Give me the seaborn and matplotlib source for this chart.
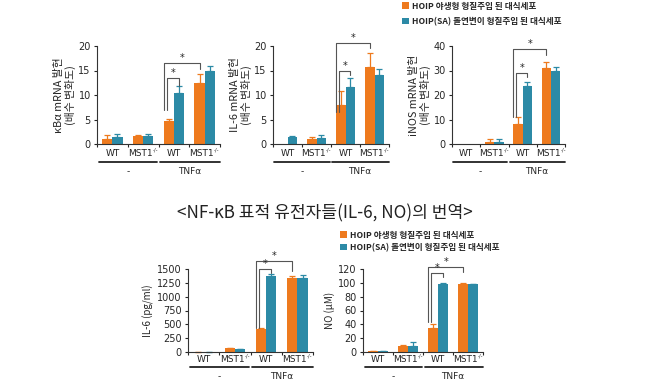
import matplotlib
matplotlib.use("Agg")
import matplotlib.pyplot as plt
import seaborn as sns
import pandas as pd
import numpy as np
from matplotlib.patches import Patch

sns.set_theme(style="ticks")
plt.rcParams['font.family'] = ['Noto Sans CJK KR', 'DejaVu Sans']

ORANGE = "#EE7A1E"
TEAL = "#2C8AA6"

genotypes = ["WT", "MST1", "WT ", "MST1 "]
genotype_sup = ["", "-/-", "", "-/-"]
treat_labels = ["-", "TNFα"]
series_names = ["HOIP 야생형 형질주입 된 대식세포", "HOIP(SA) 돌연변이 형질주입 된 대식세포"]

# kBa mRNA
kba_wt = [1.0, 1.6, 4.7, 12.5]
kba_wt_err = [0.8, 0.2, 0.4, 1.8]
kba_sa = [1.5, 1.7, 10.5, 15.0]
kba_sa_err = [0.6, 0.3, 1.4, 1.0]
# IL-6 mRNA
il6m_wt = [0.0, 1.0, 7.9, 15.8]
il6m_wt_err = [0.0, 0.4, 3.0, 2.8]
il6m_sa = [1.5, 1.3, 11.7, 14.0]
il6m_sa_err = [0.2, 0.5, 1.7, 1.3]
# iNOS mRNA
inos_wt = [0.0, 0.7, 8.0, 31.0]
inos_wt_err = [0.0, 1.5, 3.0, 2.5]
inos_sa = [0.0, 1.0, 23.5, 30.0]
inos_sa_err = [0.0, 1.2, 1.8, 1.5]
# IL-6 protein
il6p_wt = [5, 65, 420, 1345]
il6p_wt_err = [2, 10, 20, 30]
il6p_sa = [5, 55, 1370, 1340]
il6p_sa_err = [2, 8, 40, 45]
# NO
no_wt = [1.5, 8.5, 35, 98.5]
no_wt_err = [0.5, 1.0, 6.0, 0.6]
no_sa = [1.0, 9.0, 98.0, 98.0]
no_sa_err = [0.3, 6.0, 2.0, 0.6]

W, H = 658, 391
fig = plt.figure(figsize=(W / 100, H / 100), dpi=100)


def axes_px(x0, x1, ytop, ybot):
    return fig.add_axes([x0 / W, 1 - ybot / H, (x1 - x0) / W, (ybot - ytop) / H])


def panel(ax, wt, wt_err, sa, sa_err, ymax, yticks, ylabel, brackets, line_off, lab_off,
          tick_off, ylab_size):
    df = pd.DataFrame({
        "geno": genotypes * 2,
        "val": wt + sa,
        "series": [series_names[0]] * 4 + [series_names[1]] * 4,
    })
    sns.barplot(data=df, x="geno", y="val", hue="series", order=genotypes,
                hue_order=series_names, palette=[ORANGE, TEAL], width=0.66,
                errorbar=None, legend=False, ax=ax, saturation=1, linewidth=0)
    for cont, errs, col in zip(ax.containers, [wt_err, sa_err], [ORANGE, TEAL]):
        xs = [p.get_x() + p.get_width() / 2 for p in cont.patches]
        hs = [p.get_height() for p in cont.patches]
        for x, h, e in zip(xs, hs, errs):
            if h > 0 and e > 0:
                ax.errorbar(x, h, yerr=[[0], [e]], color=col, capsize=2.2,
                            elinewidth=0.9, capthick=0.9, clip_on=False)
    ax.set_xlim(-0.5, 3.5)
    ax.set_ylim(0, ymax)
    ax.set_yticks(yticks)
    ax.set_xlabel("")
    ax.set_ylabel(ylabel, fontsize=ylab_size, labelpad=2, linespacing=1.0)
    ax.set_xticks(range(4))
    ax.set_xticklabels([])
    ax.tick_params(axis='x', length=0)
    ax.set_xticks([-0.5, 0.5, 1.5, 2.5, 3.5], minor=True)
    ax.tick_params(axis='x', which='minor', length=2.5, width=0.8, direction='out')
    ax.tick_params(axis='y', labelsize=7, length=2.5, width=0.8, pad=2)
    for lab in ax.get_yticklabels():
        lab.set_family('DejaVu Sans')
    sns.despine(ax=ax)
    for s in ["left", "bottom"]:
        ax.spines[s].set_linewidth(0.8)
        ax.spines[s].set_color("#333333")
    ax.set_facecolor("none")
    tr = ax.get_xaxis_transform()
    bbox_h = ax.get_position().height * H
    # tick labels with small superscript
    for i, (g, sup) in enumerate(zip(genotypes, genotype_sup)):
        dx = -0.09 if sup else 0.0
        t = ax.text(i + dx, -tick_off / bbox_h, g.strip(), transform=tr, ha="center",
                    va="center", fontsize=6.5, family='DejaVu Sans', color="#222222")
        if sup:
            ax.annotate(sup, xy=(1.0, 0.95), xycoords=t, ha="left", va="center",
                        fontsize=3.8, family='DejaVu Sans', color="#222222")
    # treatment group lines
    yl = -line_off / bbox_h
    ylab = -lab_off / bbox_h
    ax.plot([-0.45, 1.45], [yl, yl], transform=tr, color="#222222", lw=1.3, clip_on=False)
    ax.plot([1.55, 3.5], [yl, yl], transform=tr, color="#222222", lw=1.3, clip_on=False)
    ax.text(0.5, ylab, treat_labels[0], transform=tr, ha="center", va="top", fontsize=6.5,
            family='DejaVu Sans')
    ax.text(2.5, ylab, treat_labels[1], transform=tr, ha="center", va="top", fontsize=6.5,
            family='DejaVu Sans')
    # significance brackets
    for (x1, x2, ytop, yb1, yb2) in brackets:
        ax.plot([x1, x1, x2, x2], [yb1, ytop, ytop, yb2], color="#555555", lw=0.8,
                clip_on=False)
        ax.text((x1 + x2) / 2, ytop, "*", ha="center", va="bottom", fontsize=7,
                family='DejaVu Sans')


def xpos(i, hue):
    return i + (-0.165 if hue == 0 else 0.165)


# top row
ax1 = axes_px(97, 220, 46, 144)
panel(ax1, kba_wt, kba_wt_err, kba_sa, kba_sa_err, 20, [0, 5, 10, 15, 20],
      "κBα mRNA 발현\n(배수 변화도)",
      [(xpos(2, 0) - 0.06, xpos(2, 1), 13.4, 6.9, 11.8),
       (xpos(2, 0) - 0.16, xpos(3, 0), 16.6, 6.9, 15.4)], 18, 23, 10, 7.8)
ax2 = axes_px(273, 389, 46, 144)
panel(ax2, il6m_wt, il6m_wt_err, il6m_sa, il6m_sa_err, 20, [0, 5, 10, 15, 20],
      "IL-6 mRNA 발현\n(배수 변화도)",
      [(xpos(2, 0) - 0.06, xpos(2, 1), 14.9, 6.5, 14.0),
       (xpos(2, 0) - 0.16, xpos(3, 0), 20.6, 6.5, 19.5)], 18, 23, 10, 7.8)
ax3 = axes_px(452, 565, 46, 144)
panel(ax3, inos_wt, inos_wt_err, inos_sa, inos_sa_err, 40, [0, 10, 20, 30, 40],
      "iNOS mRNA 발현\n(배수 변화도)",
      [(xpos(2, 0) - 0.06, xpos(2, 1), 29.1, 11.2, 27.2),
       (xpos(2, 0) - 0.16, xpos(3, 0), 38.6, 11.2, 36.3)], 18, 23, 10, 7.8)

# bottom row
ax4 = axes_px(188, 313, 269, 352)
panel(ax4, il6p_wt, il6p_wt_err, il6p_sa, il6p_sa_err, 1500,
      [0, 250, 500, 750, 1000, 1250, 1500], "IL-6 (pg/ml)",
      [(xpos(2, 0) - 0.06, xpos(2, 1), 1500, 425, 1427),
       (xpos(2, 0) - 0.16, xpos(3, 0), 1640, 425, 1457)], 15, 20, 8, 7)
ax5 = axes_px(363, 483, 269, 352)
panel(ax5, no_wt, no_wt_err, no_sa, no_sa_err, 120,
      [0, 20, 40, 60, 80, 100, 120], "NO (μM)",
      [(xpos(2, 0) - 0.06, xpos(2, 1), 113.7, 44, 107.8),
       (xpos(2, 0) - 0.16, xpos(3, 0), 122.5, 44, 115)], 15, 20, 8, 7)

# title
fig.text(325 / W, 1 - 213 / H, "<NF-κB 표적 유전자들(IL-6, NO)의 번역>",
         ha="center", va="center", fontsize=12.3, color="#222222")

# legends
handles = [Patch(facecolor=ORANGE, edgecolor="none"), Patch(facecolor=TEAL, edgecolor="none")]
for (lx, ly, sp) in [(400, 0, 0.75), (338, 229, 0.4)]:
    fig.legend(handles, series_names, loc="upper left",
               bbox_to_anchor=(lx / W, 1 - ly / H), frameon=False,
               prop={"size": 6.2, "weight": "bold"}, handlelength=0.8, handleheight=0.8,
               handletextpad=0.4, labelspacing=sp, borderpad=0.2, borderaxespad=0)

fig.savefig("out.png", dpi=100, facecolor="white")
